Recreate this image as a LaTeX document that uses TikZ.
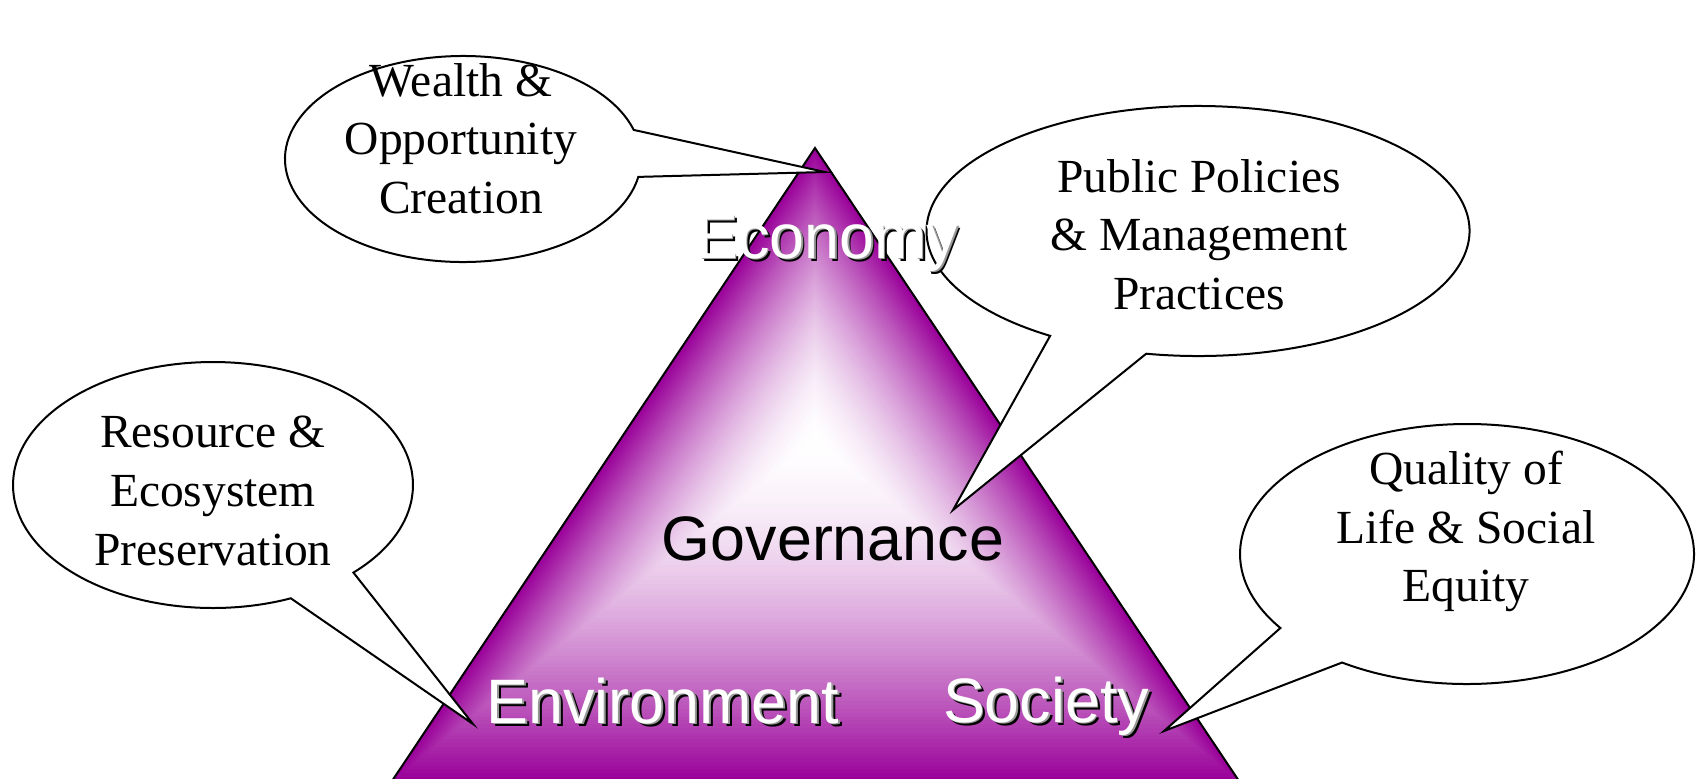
\documentclass[tikz,border=0pt]{standalone}
\usepackage{fontspec}
\setmainfont{Liberation Serif}
\newfontfamily\tierfont{Liberation Sans}
\usetikzlibrary{calc}
\definecolor{pyrviolet}{RGB}{153,0,153}
\newcommand{\tiershadow}[1]{\makebox[0pt][l]{\kern1.75pt\raisebox{-1.75pt}{\color{black}#1}}\makebox[0pt][l]{\kern0.9pt\raisebox{-0.9pt}{\color{gray!80}#1}}#1}

\begin{document}
\begin{tikzpicture}[x=0.5pt, y=0.5pt, line width=1pt]
	\tikzset{
		bubble/.style={draw=black, fill=white, line join=miter},
		bubbletext/.style={align=center, font=\fontsize{23.75}{29.3}\selectfont},
		tier/.style={font=\tierfont\fontsize{31.4}{37}\selectfont, anchor=base, inner sep=0pt}
	}
	\path[use as bounding box, fill=white] (0,0) rectangle (1703,-778);

	\coordinate (apex) at (815,-148);
	\coordinate (left) at (392,-781);
	\coordinate (right) at (1239,-781);
	\coordinate (ctr) at (815,-440);

	\foreach \i in {0,...,89}{
		\pgfmathsetmacro\shr{1-\i/90}
		\pgfmathsetmacro\mixpc{100*\shr^1.7}
		\fill[pyrviolet!\mixpc!white] ($(ctr)!\shr!(apex)$) -- ($(ctr)!\shr!(left)$) -- ($(ctr)!\shr!(right)$) -- cycle;
	}
	\draw (left) -- (apex) -- (right);

	\coordinate (econ tip) at (825,-172);
	\coordinate (gov tip) at (953,-510);
	\coordinate (env tip) at (473,-724);
	\coordinate (soc tip) at (1164,-731);

	\coordinate (wealth) at (463,-159);
	\coordinate (policy) at (1198,-231);
	\coordinate (resource) at (213,-485);
	\coordinate (quality) at (1467,-554);

	\draw[bubble] ($(wealth)+(16.4:178 and 103)$) arc[start angle=16.4, end angle=350, x radius=178, y radius=103] -- (econ tip) -- cycle;
	\draw[bubble] ($(policy)+(259:271.5 and 125)$) arc[start angle=259, end angle=597, x radius=271.5, y radius=125] -- (gov tip) -- cycle;
	\draw[bubble] ($(resource)+(314.6:200 and 123)$) arc[start angle=314.6, end angle=652.9, x radius=200, y radius=123] -- (env tip) -- cycle;
	\draw[bubble] ($(quality)+(236.6:227 and 130)$) arc[start angle=236.6, end angle=574.7, x radius=227, y radius=130] -- (soc tip) -- cycle;

	\node[bubbletext] (wealth text) at (461,-138.5) {Wealth \&\\Opportunity\\Creation};
	\node[bubbletext] (policy text) at (1199,-234.5) {Public Policies\\\& Management\\Practices};
	\node[bubbletext] (resource text) at (213,-491) {Resource \&\\Ecosystem\\Preservation};
	\node[bubbletext] (quality text) at (1466,-531.5) {Quality of\\Life \& Social\\Equity};

	\foreach \name/\x/\y/\txt in {econ/827/258/Economy, env/663/723/Environment, soc/1046/722/Society}{
		\node[tier, text=white] (\name) at (\x,-\y) {\tiershadow{\txt}};
	}
	\node[tier, text=black] (gov) at (833,-560) {Governance};
\end{tikzpicture}
\end{document}
